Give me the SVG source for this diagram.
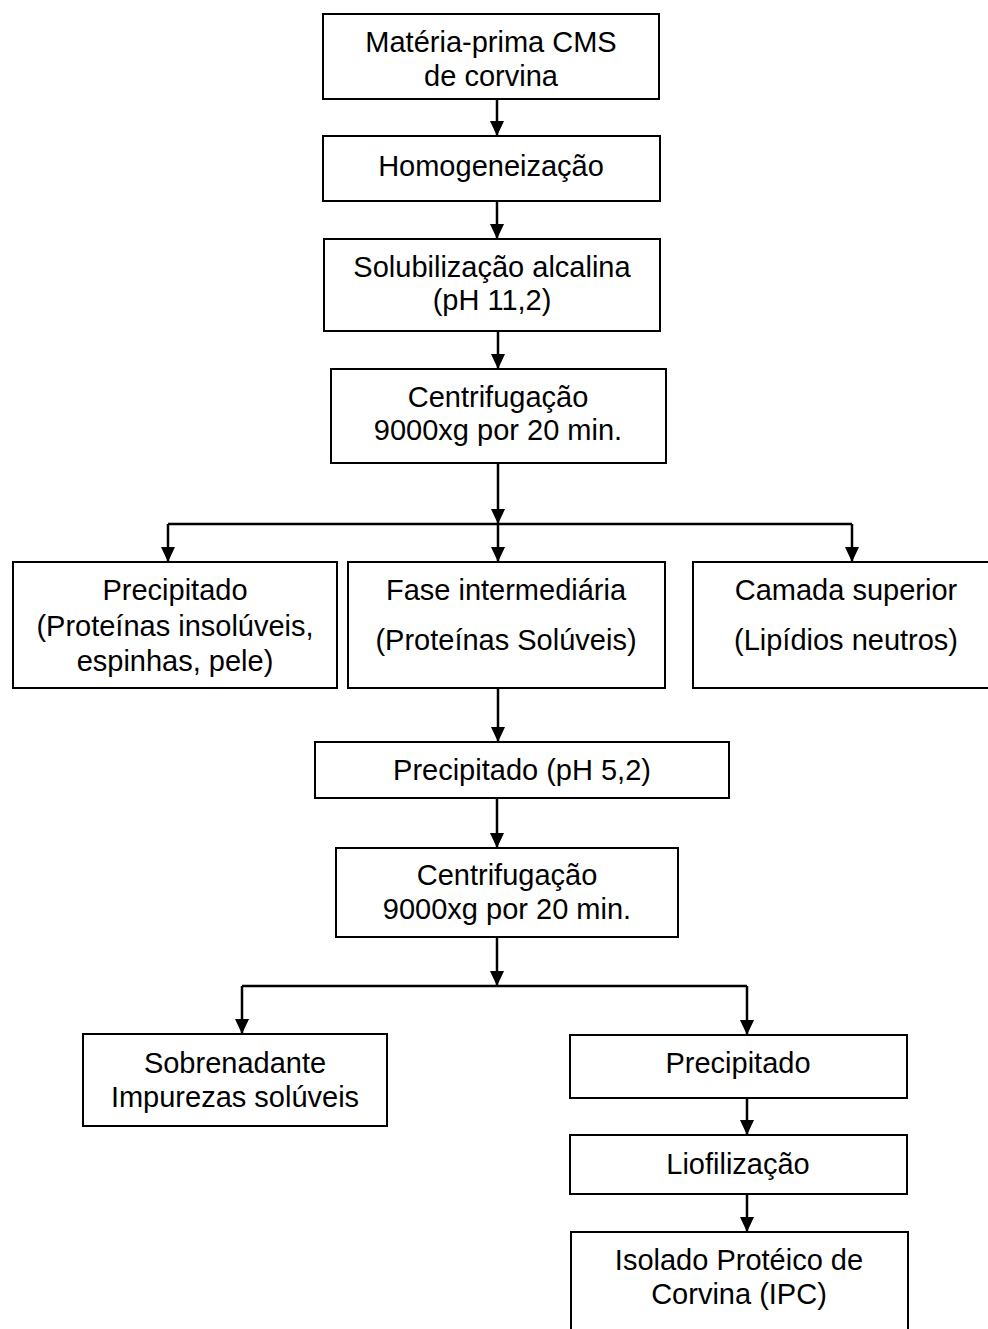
<svg xmlns="http://www.w3.org/2000/svg" width="988" height="1329" viewBox="0 0 988 1329">
<style>
.box{fill:#fff;stroke:#000;stroke-width:2}
.t{font-family:"Liberation Sans",Arial,sans-serif;font-size:29px;fill:#000;text-anchor:middle}
.c{fill:none;stroke:#000;stroke-width:2.5}
</style>
<defs>
<marker id="ah" viewBox="0 0 15 14" refX="15" refY="7" markerWidth="15" markerHeight="14" orient="auto" markerUnits="userSpaceOnUse">
<path d="M0,0 L15,7 L0,14 Z" fill="#000"/>
</marker>
</defs>
<rect width="988" height="1329" fill="#fff"/>
<g id="connectors">
<path class="c" d="M497,99 V136" marker-end="url(#ah)"/>
<path class="c" d="M497,201 V239" marker-end="url(#ah)"/>
<path class="c" d="M498,331 V369" marker-end="url(#ah)"/>
<path class="c" d="M498,463 V524" marker-end="url(#ah)"/>
<path class="c" d="M168,524 H852"/>
<path class="c" d="M168,524 V562" marker-end="url(#ah)"/>
<path class="c" d="M498,524 V562" marker-end="url(#ah)"/>
<path class="c" d="M852,524 V562" marker-end="url(#ah)"/>
<path class="c" d="M498,688 V742" marker-end="url(#ah)"/>
<path class="c" d="M497,798 V848" marker-end="url(#ah)"/>
<path class="c" d="M497,937 V986" marker-end="url(#ah)"/>
<path class="c" d="M242,986 H747"/>
<path class="c" d="M242,986 V1034" marker-end="url(#ah)"/>
<path class="c" d="M747,986 V1035" marker-end="url(#ah)"/>
<path class="c" d="M747,1098 V1135" marker-end="url(#ah)"/>
<path class="c" d="M747,1194 V1232" marker-end="url(#ah)"/>
</g>
<g id="n1"><rect class="box" x="323" y="14" width="336" height="85"/>
<text class="t" x="491" y="52">Matéria-prima CMS</text><text class="t" x="491" y="86">de corvina</text></g>
<g id="n2"><rect class="box" x="323" y="136" width="337" height="65"/>
<text class="t" x="491" y="176">Homogeneização</text></g>
<g id="n3"><rect class="box" x="324" y="239" width="336" height="92"/>
<text class="t" x="492" y="277">Solubilização alcalina</text><text class="t" x="492" y="310">(pH 11,2)</text></g>
<g id="n4"><rect class="box" x="331" y="369" width="335" height="94"/>
<text class="t" x="498" y="407">Centrifugação</text><text class="t" x="498" y="440">9000xg por 20 min.</text></g>
<g id="n5"><rect class="box" x="13" y="562" width="324" height="126"/>
<text class="t" x="175" y="600">Precipitado</text><text class="t" x="175" y="636">(Proteínas insolúveis,</text><text class="t" x="175" y="671">espinhas, pele)</text></g>
<g id="n6"><rect class="box" x="348" y="562" width="317" height="126"/>
<text class="t" x="506" y="600">Fase intermediária</text><text class="t" x="506" y="650">(Proteínas Solúveis)</text></g>
<g id="n7"><rect class="box" x="693" y="562" width="300" height="126"/>
<text class="t" x="846" y="600">Camada superior</text><text class="t" x="846" y="650">(Lipídios neutros)</text></g>
<g id="n8"><rect class="box" x="315" y="742" width="414" height="56"/>
<text class="t" x="522" y="780">Precipitado (pH 5,2)</text></g>
<g id="n9"><rect class="box" x="336" y="848" width="342" height="89"/>
<text class="t" x="507" y="885">Centrifugação</text><text class="t" x="507" y="919">9000xg por 20 min.</text></g>
<g id="n10"><rect class="box" x="83" y="1034" width="304" height="92"/>
<text class="t" x="235" y="1073">Sobrenadante</text><text class="t" x="235" y="1107">Impurezas solúveis</text></g>
<g id="n11"><rect class="box" x="570" y="1035" width="337" height="63"/>
<text class="t" x="738" y="1073">Precipitado</text></g>
<g id="n12"><rect class="box" x="570" y="1135" width="337" height="59"/>
<text class="t" x="738" y="1174">Liofilização</text></g>
<g id="n13"><rect class="box" x="571" y="1232" width="337" height="110"/>
<text class="t" x="739" y="1270">Isolado Protéico de</text><text class="t" x="739" y="1304">Corvina (IPC)</text></g>
</svg>
